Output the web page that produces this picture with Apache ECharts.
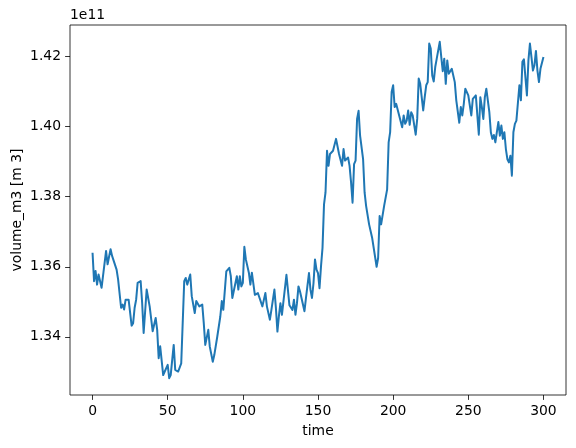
<!DOCTYPE html>
<html><head><meta charset="utf-8">
<script src="https://cdn.jsdelivr.net/npm/echarts@6/dist/echarts.min.js"></script>
<style>html,body{margin:0;padding:0;background:#fff}#c{width:576px;height:448px}</style>
</head><body><div id="c"></div>
<script>
// values in units of 1e11 m^3
const times = [0,1,2,3,4,6,9,10,12,13,14,16,17,19,20,21,22,24,26,27,28,29,30,32,33,34,35,36,38,40,42,43,44,45,47,48,50,51,52,54,55,57,59,61,62,63,65,66,68,69,71,73,74,75,77,78,80,81,83,85,86,87,89,91,92,93,94,96,97,98,99,100,101,102,104,105,106,108,110,111,113,114,115,116,117,118,119,121,122,123,124,125,126,129,131,133,134,135,136,137,138,139,141,142,144,145,146,147,148,149,150,151,152,153,154,155,156,157,158,160,161,162,163,164,165,166,167,168,170,171,172,173,174,175,176,177,178,180,181,182,184,185,186,189,190,191,192,194,196,197,198,199,200,201,202,204,205,206,207,208,209,210,211,212,213,215,216,217,218,220,221,222,223,224,225,226,227,228,229,230,231,232,233,234,235,236,237,239,240,241,242,244,245,246,247,248,250,252,253,255,257,258,259,260,261,262,264,265,266,267,268,269,270,271,272,273,274,275,276,277,278,279,280,281,282,283,284,285,286,287,288,289,290,291,292,293,294,295,296,297,298,299,300];
const volumes = [1.3640,1.3559,1.3588,1.3549,1.3578,1.3540,1.3645,1.3607,1.3650,1.3631,1.3626,1.3592,1.3564,1.3483,1.3492,1.3478,1.3506,1.3506,1.3432,1.3439,1.3483,1.3506,1.3554,1.3559,1.3497,1.3411,1.3416,1.3535,1.3487,1.3416,1.3454,1.3420,1.3339,1.3373,1.3291,1.3296,1.3320,1.3282,1.3291,1.3377,1.3306,1.3301,1.3324,1.3559,1.3568,1.3549,1.3578,1.3516,1.3468,1.3502,1.3487,1.3492,1.3439,1.3377,1.3420,1.3372,1.3329,1.3348,1.3401,1.3458,1.3502,1.3477,1.3587,1.3597,1.3573,1.3511,1.3516,1.3573,1.3535,1.3573,1.3544,1.3554,1.3657,1.3621,1.3583,1.3549,1.3583,1.3520,1.3525,1.3530,1.3487,1.3492,1.3525,1.3487,1.3482,1.3449,1.3477,1.3535,1.3482,1.3415,1.3460,1.3496,1.3463,1.3577,1.3490,1.3477,1.3506,1.3463,1.3496,1.3544,1.3530,1.3534,1.3473,1.3511,1.3582,1.3534,1.3511,1.3553,1.3621,1.3592,1.3582,1.3539,1.3601,1.3654,1.3778,1.3812,1.3931,1.3888,1.3922,1.3931,1.3936,1.3965,1.3970,1.3922,1.3922,1.3888,1.3936,1.3903,1.3912,1.3888,1.3841,1.3783,1.3893,1.3903,1.4022,1.4045,1.3974,1.3907,1.3812,1.3774,1.3721,1.3716,1.3683,1.3600,1.3625,1.3745,1.3721,1.3774,1.3821,1.3955,1.3984,1.4099,1.4118,1.4056,1.4065,1.4032,1.4027,1.3998,1.4032,1.4008,1.4017,1.4046,1.4005,1.4041,1.4032,1.3977,1.4022,1.4137,1.4122,1.4046,1.4084,1.4118,1.4127,1.4237,1.4223,1.4146,1.4129,1.4170,1.4194,1.4199,1.4242,1.4199,1.4158,1.4194,1.4122,1.4189,1.4151,1.4165,1.4165,1.4127,1.4075,1.4011,1.4056,1.4032,1.4065,1.4108,1.4089,1.4032,1.4079,1.4089,1.3977,1.4084,1.4056,1.4022,1.4084,1.4108,1.4041,1.3984,1.3965,1.3976,1.3955,1.3984,1.4013,1.3974,1.4003,1.3965,1.3984,1.3936,1.3907,1.3898,1.3917,1.3860,1.3984,1.4008,1.4017,1.4017,1.4118,1.4075,1.4185,1.4192,1.4196,1.4089,1.4189,1.4237,1.4199,1.4160,1.4175,1.4216,1.4160,1.4127,1.4165,1.4165,1.4199];
const xTicks = [0,50,100,150,200,250,300];
const yTicks = [1.34,1.36,1.38,1.40,1.42];
const offsetText = '1e11';
const xName = 'time';
const yName = 'volume_m3 [m 3]';

const FONT = 'DejaVu Sans';
const FS = 13.9;
const tMin = Math.min(...times), tMax = Math.max(...times);
const vMin = Math.min(...volumes), vMax = Math.max(...volumes);
const tPad = (tMax - tMin) * 0.05, vPad = (vMax - vMin) * 0.05;

const chart = echarts.init(document.getElementById('c'), null, {renderer: 'canvas'});
chart.setOption({
  animation: false,
  backgroundColor: '#fff',
  grid: {left: 70, top: 25, width: 496, height: 370, containLabel: false, outerBoundsMode: 'none',
         show: true, borderColor: '#000', borderWidth: 0.8, backgroundColor: 'transparent'},
  xAxis: {
    type: 'value', min: tMin - tPad, max: tMax + tPad, position: 'bottom',
    name: xName, nameLocation: 'middle', nameGap: 29, nameMoveOverlap: false,
    nameTextStyle: {fontFamily: FONT, fontSize: FS, color: '#000'},
    axisLine: {show: false, onZero: false},
    splitLine: {show: false},
    axisTick: {show: true, length: 4.9, lineStyle: {color: '#000', width: 0.8}, customValues: xTicks},
    axisLabel: {fontFamily: FONT, fontSize: FS, color: '#000', margin: 9, customValues: xTicks, formatter: v => String(v)}
  },
  yAxis: {
    type: 'value', min: vMin - vPad, max: vMax + vPad, position: 'left',
    name: yName, nameLocation: 'middle', nameGap: 46, nameRotate: 90, nameMoveOverlap: false,
    nameTextStyle: {fontFamily: FONT, fontSize: FS, color: '#000'},
    axisLine: {show: false, onZero: false},
    splitLine: {show: false},
    axisTick: {show: true, length: 4.9, lineStyle: {color: '#000', width: 0.8}, customValues: yTicks},
    axisLabel: {fontFamily: FONT, fontSize: FS, color: '#000', margin: 9, customValues: yTicks, formatter: v => v.toFixed(2)}
  },
  graphic: [{type: 'text', left: 70, top: 8, style: {text: offsetText, font: FS + 'px "' + FONT + '"', fill: '#000'}}],
  series: [{
    type: 'line', data: times.map((t, i) => [t, volumes[i]]),
    showSymbol: false, symbol: 'none',
    lineStyle: {color: '#1f77b4', width: 2, join: 'round', cap: 'butt'}
  }]
});
</script></body></html>
